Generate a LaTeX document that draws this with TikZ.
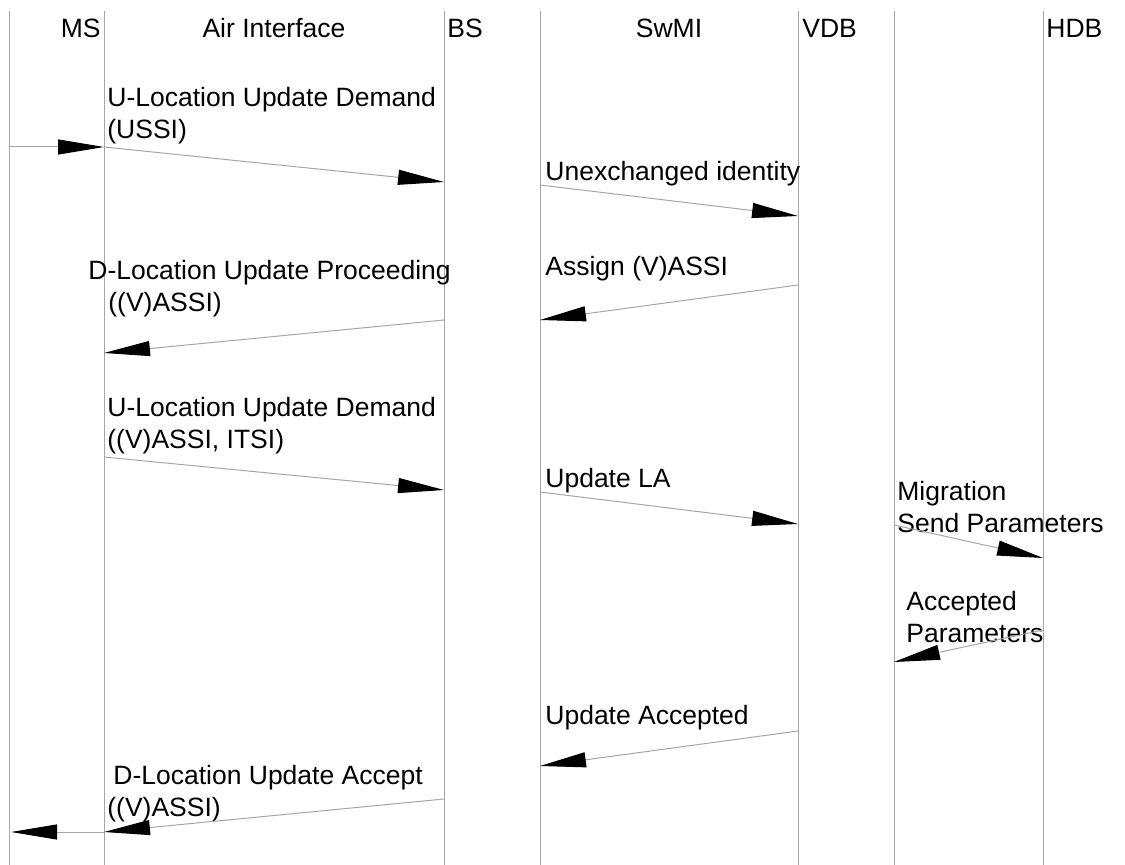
\documentclass[tikz,border=0pt]{standalone}
\usepackage{fontspec}
\setmainfont{Liberation Sans}
\usetikzlibrary{arrows.meta}
\definecolor{lifegray}{HTML}{A6A6A6}
\tikzset{
  lifeline/.style={draw=lifegray, line width=0.5pt},
  msg/.style={draw=lifegray, line width=0.5pt, -{Triangle[length=23pt,width=7.5pt,color=black]}},
  msglabel/.style={anchor=north west, align=left, inner sep=1pt},
  header/.style={inner sep=0pt},
}
\begin{document}
\begin{tikzpicture}[x=0.5pt, y=-0.5pt, font=\fontsize{13.25}{16}\selectfont]
    \useasboundingbox (0,0) rectangle (1125,865);

    % Lifelines
    \foreach \n/\x in {msl/9, msr/104, bsl/444, bsr/540, vdbl/798, vdbr/894, hdbl/1043} {
        \coordinate (\n-top) at (\x,11);
        \coordinate (\n-bot) at (\x,865);
        \draw[lifeline] (\n-top) -- (\n-bot);
    }

    % Headers
    \node[header, anchor=base east] (ms) at (101,37.5) {MS};
    \node[header, anchor=base] (air) at (274,37.5) {Air Interface};
    \node[header, anchor=base west] (bs) at (447,37.5) {BS};
    \node[header, anchor=base] (swmi) at (669,37.5) {SwMI};
    \node[header, anchor=base west] (vdb) at (802,37.5) {VDB};
    \node[header, anchor=base west] (hdb) at (1046,37.5) {HDB};

    % Message labels
    \node[msglabel] (lbl1) at (105,84.5) {U-Location Update Demand\\(USSI)};
    \node[msglabel] (lbl2) at (543,158.5) {Unexchanged identity};
    \node[msglabel] (lbl3) at (543,253.5) {Assign (V)ASSI};
    \node[msglabel] (lbl4) at (86,258) {D-Location Update Proceeding\\\hspace*{10pt}((V)ASSI)};
    \node[msglabel] (lbl5) at (105,395) {U-Location Update Demand\\((V)ASSI, ITSI)};
    \node[msglabel] (lbl6) at (543,465.5) {Update LA};
    \node[msglabel] (lbl7) at (895,478.5) {Migration\\Send Parameters};
    \node[msglabel] (lbl8) at (904,588.5) {Accepted\\Parameters};
    \node[msglabel] (lbl9) at (543,702.5) {Update Accepted};
    \node[msglabel] (lbl10) at (105,763) {\hspace*{3pt}D-Location Update Accept\\((V)ASSI)};

    % Message end points
    \coordinate (m1a) at (9,147);    \coordinate (m1b) at (104,147);
    \coordinate (m2a) at (104,147);  \coordinate (m2b) at (444,182);
    \coordinate (m3a) at (540,185);  \coordinate (m3b) at (798,216);
    \coordinate (m4a) at (798,285);  \coordinate (m4b) at (540,320);
    \coordinate (m5a) at (444,320);  \coordinate (m5b) at (104,353);
    \coordinate (m6a) at (104,457);  \coordinate (m6b) at (444,490);
    \coordinate (m7a) at (540,492);  \coordinate (m7b) at (798,524);
    \coordinate (m8a) at (894,525);  \coordinate (m8b) at (1043,558);
    \coordinate (m9a) at (1043,630); \coordinate (m9b) at (894,662);
    \coordinate (m10a) at (798,731); \coordinate (m10b) at (540,766);
    \coordinate (m11a) at (444,799); \coordinate (m11b) at (104,832);
    \coordinate (m12a) at (104,832); \coordinate (m12b) at (11,832);

    % Messages
    \foreach \i in {1,...,12} {
        \draw[msg] (m\i a) -- (m\i b);
    }
\end{tikzpicture}
\end{document}
